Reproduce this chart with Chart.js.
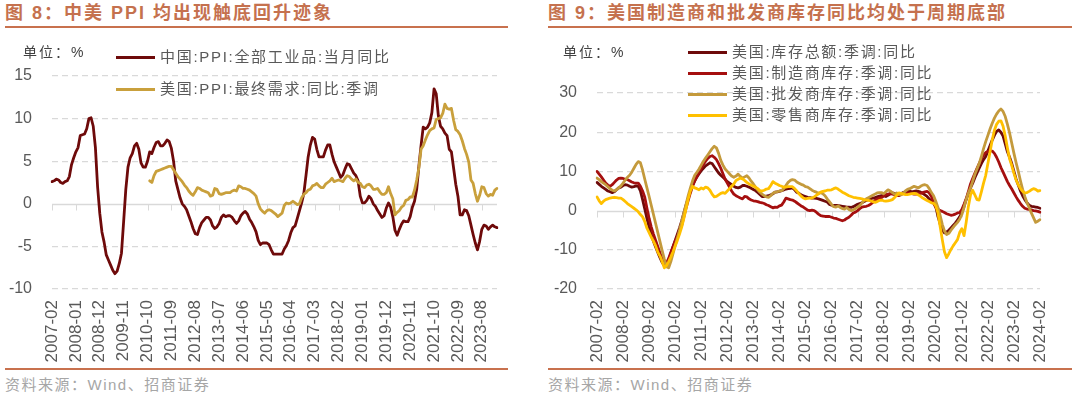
<!DOCTYPE html>
<html><head><meta charset="utf-8">
<script src="https://cdn.jsdelivr.net/npm/chart.js@4.4.1/dist/chart.umd.min.js"></script>
<style>
html,body{margin:0;padding:0;background:#fff;}
body{width:1072px;height:396px;position:relative;overflow:hidden;font-family:"Liberation Sans","Noto Sans CJK SC",sans-serif;}
.title{position:absolute;top:2px;font-weight:bold;font-size:18px;font-family:"Liberation Sans","Noto Sans CJK SC",sans-serif;color:#C5714E;letter-spacing:2px;line-height:22px;white-space:nowrap;}
.rule{position:absolute;height:2px;background:#C8714E;}
.unit{position:absolute;font-size:14px;font-family:"Liberation Sans","Noto Sans CJK SC",sans-serif;color:#404040;letter-spacing:2px;line-height:16px;white-space:nowrap;}
.leg{position:absolute;font-size:15px;font-family:"Liberation Sans","Noto Sans CJK SC",sans-serif;color:#595959;letter-spacing:1.7px;line-height:18px;white-space:nowrap;}
.leg i{position:absolute;left:-44px;top:8px;width:39px;height:3px;}
.src{position:absolute;top:373px;font-size:15px;font-family:"Liberation Sans","Noto Sans CJK SC",sans-serif;color:#A6A6A6;letter-spacing:1.5px;white-space:nowrap;}
canvas{position:absolute;top:0;}
</style>
</head>
<body>
<div class="title" style="left:5px">图 8：中美 PPI 均出现触底回升迹象</div>
<div class="rule" style="left:5px;top:26px;width:503px"></div>
<div class="title" style="left:548px">图 9：美国制造商和批发商库存同比均处于周期底部</div>
<div class="rule" style="left:548px;top:26px;width:524px"></div>

<canvas id="c1" width="515" height="370" style="left:0"></canvas>
<canvas id="c2" width="532" height="370" style="left:540px"></canvas>

<div class="unit" style="left:23px;top:44px">单位：%</div>
<div class="unit" style="left:563px;top:44px">单位：%</div>

<div id="leg1"></div>
<div id="leg2"></div>

<div class="rule" style="left:5px;top:368px;width:503px"></div>
<div class="rule" style="left:548px;top:368px;width:524px"></div>
<div class="src" style="left:5px">资料来源：Wind、招商证券</div>
<div class="src" style="left:548px">资料来源：Wind、招商证券</div>

<script>
// ---------- categories ----------
function monthLabels(y, m, n){ const out=[]; for(let i=0;i<n;i++){ out.push(y+'-'+String(m).padStart(2,'0')); m++; if(m>12){m=1;y++;} } return out; }
const monthsLeft = monthLabels(2007, 2, 206);   // 2007-02 .. 2024-03
const monthsRight = monthLabels(2007, 2, 205);  // 2007-02 .. 2024-02

// ---------- left panel series ----------
const seriesLeftNames = ['中国:PPI:全部工业品:当月同比','美国:PPI:最终需求:同比:季调'];
const chinaPPI = [
 2.6,2.7,2.9,2.8,2.5,2.4,2.6,2.7,3.2,4.6,5.4,
 6.1,6.6,8.0,8.1,8.2,8.8,10.0,10.1,9.1,6.6,2.0,-1.1,
 -3.3,-4.5,-6.0,-6.6,-7.2,-7.8,-8.2,-7.9,-7.0,-5.8,-2.1,1.7,
 4.3,5.4,5.9,6.8,7.1,6.4,4.8,4.3,4.3,5.0,6.1,5.9,
 6.6,7.2,7.3,6.8,6.8,7.1,7.5,7.3,6.5,5.0,2.7,1.7,
 0.7,0.0,-0.3,-0.7,-1.4,-2.1,-2.9,-3.5,-3.6,-2.8,-2.2,-1.9,
 -1.6,-1.6,-1.9,-2.6,-2.9,-2.7,-2.3,-1.6,-1.3,-1.5,-1.4,-1.4,
 -1.6,-2.0,-2.3,-2.0,-1.4,-1.1,-0.9,-1.2,-1.8,-2.2,-2.7,-3.3,
 -4.3,-4.8,-4.6,-4.6,-4.6,-4.8,-5.4,-5.9,-5.9,-5.9,-5.9,-5.9,
 -5.3,-4.9,-4.3,-3.4,-2.8,-2.6,-1.7,-0.8,0.1,1.2,3.3,5.5,
 6.9,7.8,7.6,6.4,5.5,5.5,5.5,6.3,6.9,6.9,5.8,4.9,
 4.3,3.7,3.1,3.4,4.1,4.7,4.6,4.1,3.6,3.3,2.7,0.9,
 0.1,0.1,0.4,0.9,0.6,0.0,-0.3,-0.8,-1.2,-1.6,-1.4,-0.5,
 0.1,-0.4,-1.5,-3.1,-3.7,-3.0,-2.4,-2.0,-2.1,-2.1,-1.5,-0.4,
 0.3,1.7,4.4,6.8,9.0,8.8,9.0,9.5,10.7,13.5,12.9,10.3,
 9.1,8.8,8.3,8.0,6.4,6.1,4.2,2.3,0.9,-1.3,-1.3,-0.7,
 -0.8,-1.4,-2.5,-3.6,-4.6,-5.4,-4.4,-3.0,-2.5,-2.6,-3.0,-2.7,
 -2.5,-2.7,-2.8
];
const usPPI = [
 null,null,null,null,null,null,null,null,null,null,null,
 null,null,null,null,null,null,null,null,null,null,null,null,
 null,null,null,null,null,null,null,null,null,null,null,null,
 null,null,null,null,null,null,null,null,null,null,2.7,2.5,
 3.3,3.8,3.9,4.0,4.1,4.2,4.3,4.4,4.4,4.0,3.6,3.2,
 2.9,2.6,2.2,1.9,1.5,1.2,1.0,1.4,1.9,1.8,1.6,1.5,
 1.4,1.3,0.9,1.0,1.8,1.7,1.2,1.1,1.2,1.3,1.3,1.3,
 1.5,1.6,1.5,2.1,2.0,1.8,1.8,1.7,1.6,1.4,1.2,0.9,
 0.0,-0.6,-0.9,-1.1,-0.8,-0.7,-0.8,-1.0,-1.2,-1.5,-1.3,-1.1,
 -0.2,0.1,0.0,0.1,0.3,0.1,-0.1,0.0,0.7,1.1,1.3,1.6,
 1.7,2.1,2.2,2.4,2.1,1.9,1.9,2.3,2.5,2.7,3.0,2.6,
 2.7,2.8,2.7,2.6,3.0,3.3,3.2,2.9,2.7,2.9,2.5,2.4,
 2.0,1.9,2.2,2.3,2.1,1.7,1.7,1.8,1.4,1.1,1.1,1.3,
 2.0,1.2,0.6,-1.3,-1.0,-0.8,-0.4,-0.2,0.4,0.5,0.8,0.8,
 1.6,2.8,4.2,6.4,6.8,7.5,8.1,8.6,8.8,8.9,9.9,10.0,
 10.1,10.6,11.7,11.2,11.1,11.2,9.8,8.7,8.5,8.1,7.4,6.5,
 5.8,4.9,2.8,2.4,1.2,0.3,1.0,2.0,1.9,1.2,0.9,1.1,
 1.0,1.6,1.8
];

// ---------- right panel series ----------
const seriesRightNames = ['美国:库存总额:季调:同比','美国:制造商库存:季调:同比','美国:批发商库存:季调:同比','美国:零售商库存:季调:同比'];
const totalInv = [
 7.2,6.7,6.2,5.8,5.4,5.0,4.8,4.6,4.8,5.3,5.8,
 6.0,6.4,6.6,6.5,6.2,6.0,6.1,6.3,6.2,5.0,2.8,0.4,
 -2.0,-4.2,-6.2,-7.8,-9.3,-10.7,-12.0,-13.2,-14.1,-14.0,-12.8,-11.0,
 -9.2,-7.6,-6.0,-4.4,-2.6,-0.6,1.4,3.2,5.0,6.4,7.6,8.6,
 9.4,10.2,10.8,11.4,11.8,12.2,12.0,11.2,10.4,9.6,9.0,8.5,
 8.0,7.4,7.0,6.6,6.2,5.9,5.8,6.0,6.4,6.4,6.2,6.0,
 5.7,5.4,5.1,4.6,4.1,3.6,3.6,3.7,3.8,4.0,4.3,4.7,
 4.8,4.9,5.1,5.3,5.5,5.6,5.7,5.8,5.3,4.7,4.4,4.0,
 3.8,3.6,3.4,3.3,3.2,3.2,3.1,3.0,2.8,2.6,2.4,2.2,
 1.6,1.4,1.3,1.3,1.3,1.2,1.1,1.0,0.9,0.9,0.8,1.0,
 1.3,1.6,1.8,2.0,2.3,2.6,2.8,3.0,3.2,3.3,3.5,3.7,
 3.8,3.8,3.6,3.9,4.3,4.5,4.4,4.2,4.1,4.3,4.6,4.8,
 4.9,5.0,4.8,4.9,5.0,4.9,4.7,4.4,4.0,3.6,3.0,2.4,
 1.9,1.0,-1.4,-3.4,-5.0,-5.7,-5.5,-5.0,-4.4,-3.8,-3.2,-2.4,
 -1.6,-0.5,1.0,2.8,4.4,5.8,7.0,8.4,9.6,10.8,12.0,13.0,
 13.8,15.2,16.6,18.0,19.2,20.2,20.6,20.0,19.0,17.0,15.0,13.6,
 12.0,10.0,8.0,6.5,5.0,3.8,2.8,2.0,1.4,1.1,1.0,0.9,
 0.8,0.6
];
const mfgInv = [
 10.0,9.3,8.6,7.8,7.0,6.5,6.2,6.6,7.2,7.8,8.2,
 8.3,8.2,8.0,7.9,7.6,7.3,7.1,7.0,7.0,6.2,5.0,3.4,
 0.6,-2.0,-4.2,-6.0,-7.6,-9.2,-10.8,-12.3,-13.6,-13.4,-12.2,-10.6,
 -9.2,-7.8,-6.6,-5.2,-3.8,-1.6,0.6,2.6,4.5,6.2,7.6,8.7,
 9.8,10.8,11.8,12.6,13.3,13.8,14.0,13.6,13.0,12.0,10.8,9.4,
 8.0,7.0,6.0,5.0,4.2,3.8,3.5,3.2,3.0,3.6,3.5,3.0,
 2.7,2.5,2.4,2.3,2.1,2.0,1.8,1.5,1.3,1.0,0.7,0.9,
 0.8,1.2,1.4,2.2,3.2,3.0,2.8,2.7,2.4,2.0,1.6,1.2,
 0.9,0.5,0.1,0.0,0.1,0.0,-0.4,-0.9,-1.3,-1.4,-1.5,-1.5,
 -1.5,-1.7,-1.9,-2.0,-2.2,-2.4,-2.6,-2.4,-2.0,-1.7,-1.2,-0.6,
 -0.4,0.0,0.5,0.9,1.0,1.1,1.3,1.6,2.1,2.6,2.9,3.2,
 3.3,3.7,4.1,4.2,4.3,4.2,4.1,3.9,3.8,4.1,4.4,4.5,
 4.5,4.4,4.3,4.2,4.2,4.3,4.4,4.6,4.8,4.9,4.5,3.6,
 2.0,0.8,0.4,0.0,-0.2,-0.5,-0.8,-1.0,-1.2,-1.1,-0.9,-0.6,
 -0.5,0.3,1.6,3.0,4.8,6.8,8.2,9.5,10.8,12.0,13.2,14.2,
 14.8,15.1,15.3,15.2,14.6,13.6,12.4,11.0,9.8,8.6,7.4,6.4,
 5.5,4.5,3.5,2.6,1.8,1.1,0.6,0.4,0.3,0.2,0.0,-0.1,
 -0.2,-0.4
];
const wholesaleInv = [
 8.3,7.9,7.4,7.0,6.6,6.1,5.6,5.2,5.0,5.3,5.8,
 6.3,7.0,7.8,8.5,9.0,9.8,10.8,11.8,12.5,12.2,10.3,8.0,
 5.8,3.6,1.3,-1.0,-3.3,-5.6,-7.9,-10.2,-12.4,-14.3,-14.6,-13.0,
 -11.0,-9.0,-7.0,-5.0,-2.8,-0.6,1.6,3.8,5.8,7.6,9.0,9.8,
 10.6,11.6,12.6,13.4,14.2,15.0,15.8,16.4,16.0,14.6,12.8,11.6,
 10.6,10.0,9.4,8.8,8.5,8.8,9.3,8.7,8.3,8.6,8.9,8.3,
 7.5,6.8,6.0,5.3,4.7,4.2,3.8,3.5,3.4,3.8,4.4,4.7,
 4.8,5.0,5.1,5.6,6.4,7.2,7.7,7.9,7.8,7.3,7.0,6.7,
 6.5,6.1,6.0,5.6,5.2,4.9,4.7,4.4,4.6,4.3,3.8,3.0,
 2.3,1.6,1.0,0.9,1.2,0.8,0.5,0.4,0.8,0.3,0.0,0.2,
 0.5,0.9,1.3,1.9,2.6,3.0,3.3,3.6,3.9,4.2,4.5,4.6,
 4.6,4.3,4.8,5.3,5.0,4.6,4.2,4.5,4.1,4.0,4.4,5.0,
 5.4,5.6,5.9,6.2,6.0,5.8,6.2,6.5,6.6,6.4,5.6,4.6,
 3.8,2.4,0.8,-1.2,-3.5,-5.2,-6.1,-5.8,-5.0,-4.3,-3.6,-3.0,
 -2.2,-1.0,0.8,2.8,4.5,5.8,7.5,9.2,10.6,12.0,13.8,15.8,
 17.6,19.2,20.8,22.3,23.6,24.6,25.4,25.9,25.3,24.0,22.0,19.8,
 17.2,14.6,12.2,10.0,7.6,5.4,3.6,2.0,0.8,-0.6,-1.8,-3.0,
 -2.7,-2.3
];
const retailInv = [
 3.5,2.5,1.8,2.4,2.8,3.0,3.2,3.3,3.4,3.3,3.2,
 3.2,2.8,2.3,1.8,1.4,1.0,0.6,0.2,-0.3,-1.0,-1.6,-2.8,
 -4.5,-5.6,-6.8,-7.8,-9.0,-10.6,-11.6,-13.0,-14.6,-14.0,-13.0,-11.8,
 -10.5,-9.0,-7.6,-6.0,-4.2,-2.0,0.5,3.0,5.0,6.2,5.8,5.6,
 5.3,5.8,5.5,6.0,5.8,5.2,4.2,3.5,3.6,4.0,4.4,4.6,
 4.4,5.0,5.6,6.2,6.8,7.7,8.0,8.3,8.1,7.7,7.2,6.8,
 6.5,6.2,6.0,5.6,5.1,5.0,5.2,5.5,5.6,6.4,7.4,7.0,
 6.7,6.4,6.2,6.0,6.0,6.1,6.1,6.1,5.6,5.0,4.3,3.7,
 3.2,3.0,3.1,3.2,3.2,3.5,3.9,4.3,4.7,4.9,5.0,5.2,
 5.2,5.3,5.6,5.8,5.5,5.1,4.7,4.4,4.1,3.8,3.6,3.4,
 3.3,3.2,3.1,3.0,2.8,2.7,2.6,2.5,2.3,2.1,2.3,2.6,
 2.7,2.5,2.4,2.5,2.6,2.8,3.3,3.9,4.5,4.4,4.2,4.1,
 4.1,4.2,4.3,4.4,4.3,4.0,3.6,3.2,2.9,2.6,2.3,2.0,
 1.9,1.2,-0.6,-4.0,-7.4,-10.5,-12.0,-11.0,-9.9,-9.0,-8.2,-7.4,
 -5.6,-4.6,-6.4,-3.0,1.0,4.0,5.2,4.0,2.8,2.7,4.8,7.0,
 9.0,12.0,15.0,18.0,20.5,22.0,22.8,22.9,21.5,19.0,16.0,13.2,
 11.5,9.5,7.8,6.6,5.6,4.9,4.5,4.6,4.9,5.3,5.6,5.4,
 5.0,5.1
];

const colorsLeft = ['#6E0A0A','#C9A03C'];
const colorsRight = ['#6E0A0A','#A50F0F','#C49A3C','#FFC000'];

// ---------- legends (HTML) ----------
function buildLegend(id, names, colors, left, tops){
  const box = document.getElementById(id);
  names.forEach((n,i)=>{
    const d = document.createElement('div');
    d.className='leg'; d.style.left=left+'px'; d.style.top=(tops[i]-9)+'px';
    d.innerHTML = '<i style="background:'+colors[i]+'"></i>'+n;
    box.appendChild(d);
  });
}
buildLegend('leg1', seriesLeftNames, colorsLeft, 160, [57,89]);
buildLegend('leg2', seriesRightNames, colorsRight, 732, [52,73,94,115]);

// ---------- chart helper ----------
const zeroAxis = {
  id:'zeroAxis',
  beforeDatasetsDraw(chart){
    const {ctx, chartArea} = chart; const x = chart.scales.x, y = chart.scales.y;
    const y0 = Math.round(y.getPixelForValue(0)) + 0.5;
    ctx.save();
    ctx.strokeStyle = '#D9D9D9'; ctx.lineWidth = 1.5;
    ctx.beginPath(); ctx.moveTo(chartArea.left, y0); ctx.lineTo(chartArea.right, y0); ctx.stroke();
    ctx.lineWidth = 1; ctx.beginPath();
    x.ticks.forEach(t=>{ const px = Math.round(x.getPixelForValue(t.value)) + 0.5; ctx.moveTo(px, y0); ctx.lineTo(px, y0 + 6); });
    ctx.stroke(); ctx.restore();
  }
};

function makeChart(id, labels, datasets, ymin, ymax, step, yWidth, padTop, padRight, every, canvasH, bottom){
  return new Chart(document.getElementById(id), {
    type:'line',
    data:{labels, datasets},
    options:{
      responsive:false, animation:false, devicePixelRatio:1,
      layout:{padding:{top:padTop, right:padRight, left:0, bottom:0}},
      plugins:{legend:{display:false}, tooltip:{enabled:false}},
      elements:{point:{radius:0}, line:{borderWidth:2.8, tension:0, borderJoinStyle:'round', borderCapStyle:'round'}},
      scales:{
        x:{
          type:'category',
          grid:{display:false, drawTicks:false},
          border:{display:false},
          afterBuildTicks(axis){ axis.ticks = axis.ticks.filter(t => t.value % every === 0); },
          afterFit(s){ s.height = canvasH - bottom; },
          ticks:{autoSkip:false, maxRotation:90, minRotation:90, padding:11, color:'#595959', font:{family:'"Liberation Sans", Arial', size:17}}
        },
        y:{
          min:ymin, max:ymax,
          afterFit(s){ s.width = yWidth; },
          grid:{drawTicks:false, color:(c)=> (c.tick && c.tick.value===0) ? 'rgba(0,0,0,0)' : '#D9D9D9', lineWidth:1.3},
          border:{display:false, dash:[6,4]},
          ticks:{stepSize:step, padding:20, color:'#595959', font:{family:'"Liberation Sans", Arial', size:16}}
        }
      }
    },
    plugins:[zeroAxis]
  });
}

makeChart('c1', monthsLeft, [
  {label:seriesLeftNames[0], data:chinaPPI, borderColor:colorsLeft[0], order:1},
  {label:seriesLeftNames[1], data:usPPI, borderColor:colorsLeft[1], order:0, spanGaps:false}
], -10, 15, 5, 52, 76, 18, 11, 370, 289);

makeChart('c2', monthsRight, [
  {label:seriesRightNames[0], data:totalInv, borderColor:colorsRight[0], order:3},
  {label:seriesRightNames[1], data:mfgInv, borderColor:colorsRight[1], order:2},
  {label:seriesRightNames[2], data:wholesaleInv, borderColor:colorsRight[2], order:1},
  {label:seriesRightNames[3], data:retailInv, borderColor:colorsRight[3], order:0}
], -20, 30, 10, 57, 93, 32, 12, 370, 289);
</script>
</body></html>
